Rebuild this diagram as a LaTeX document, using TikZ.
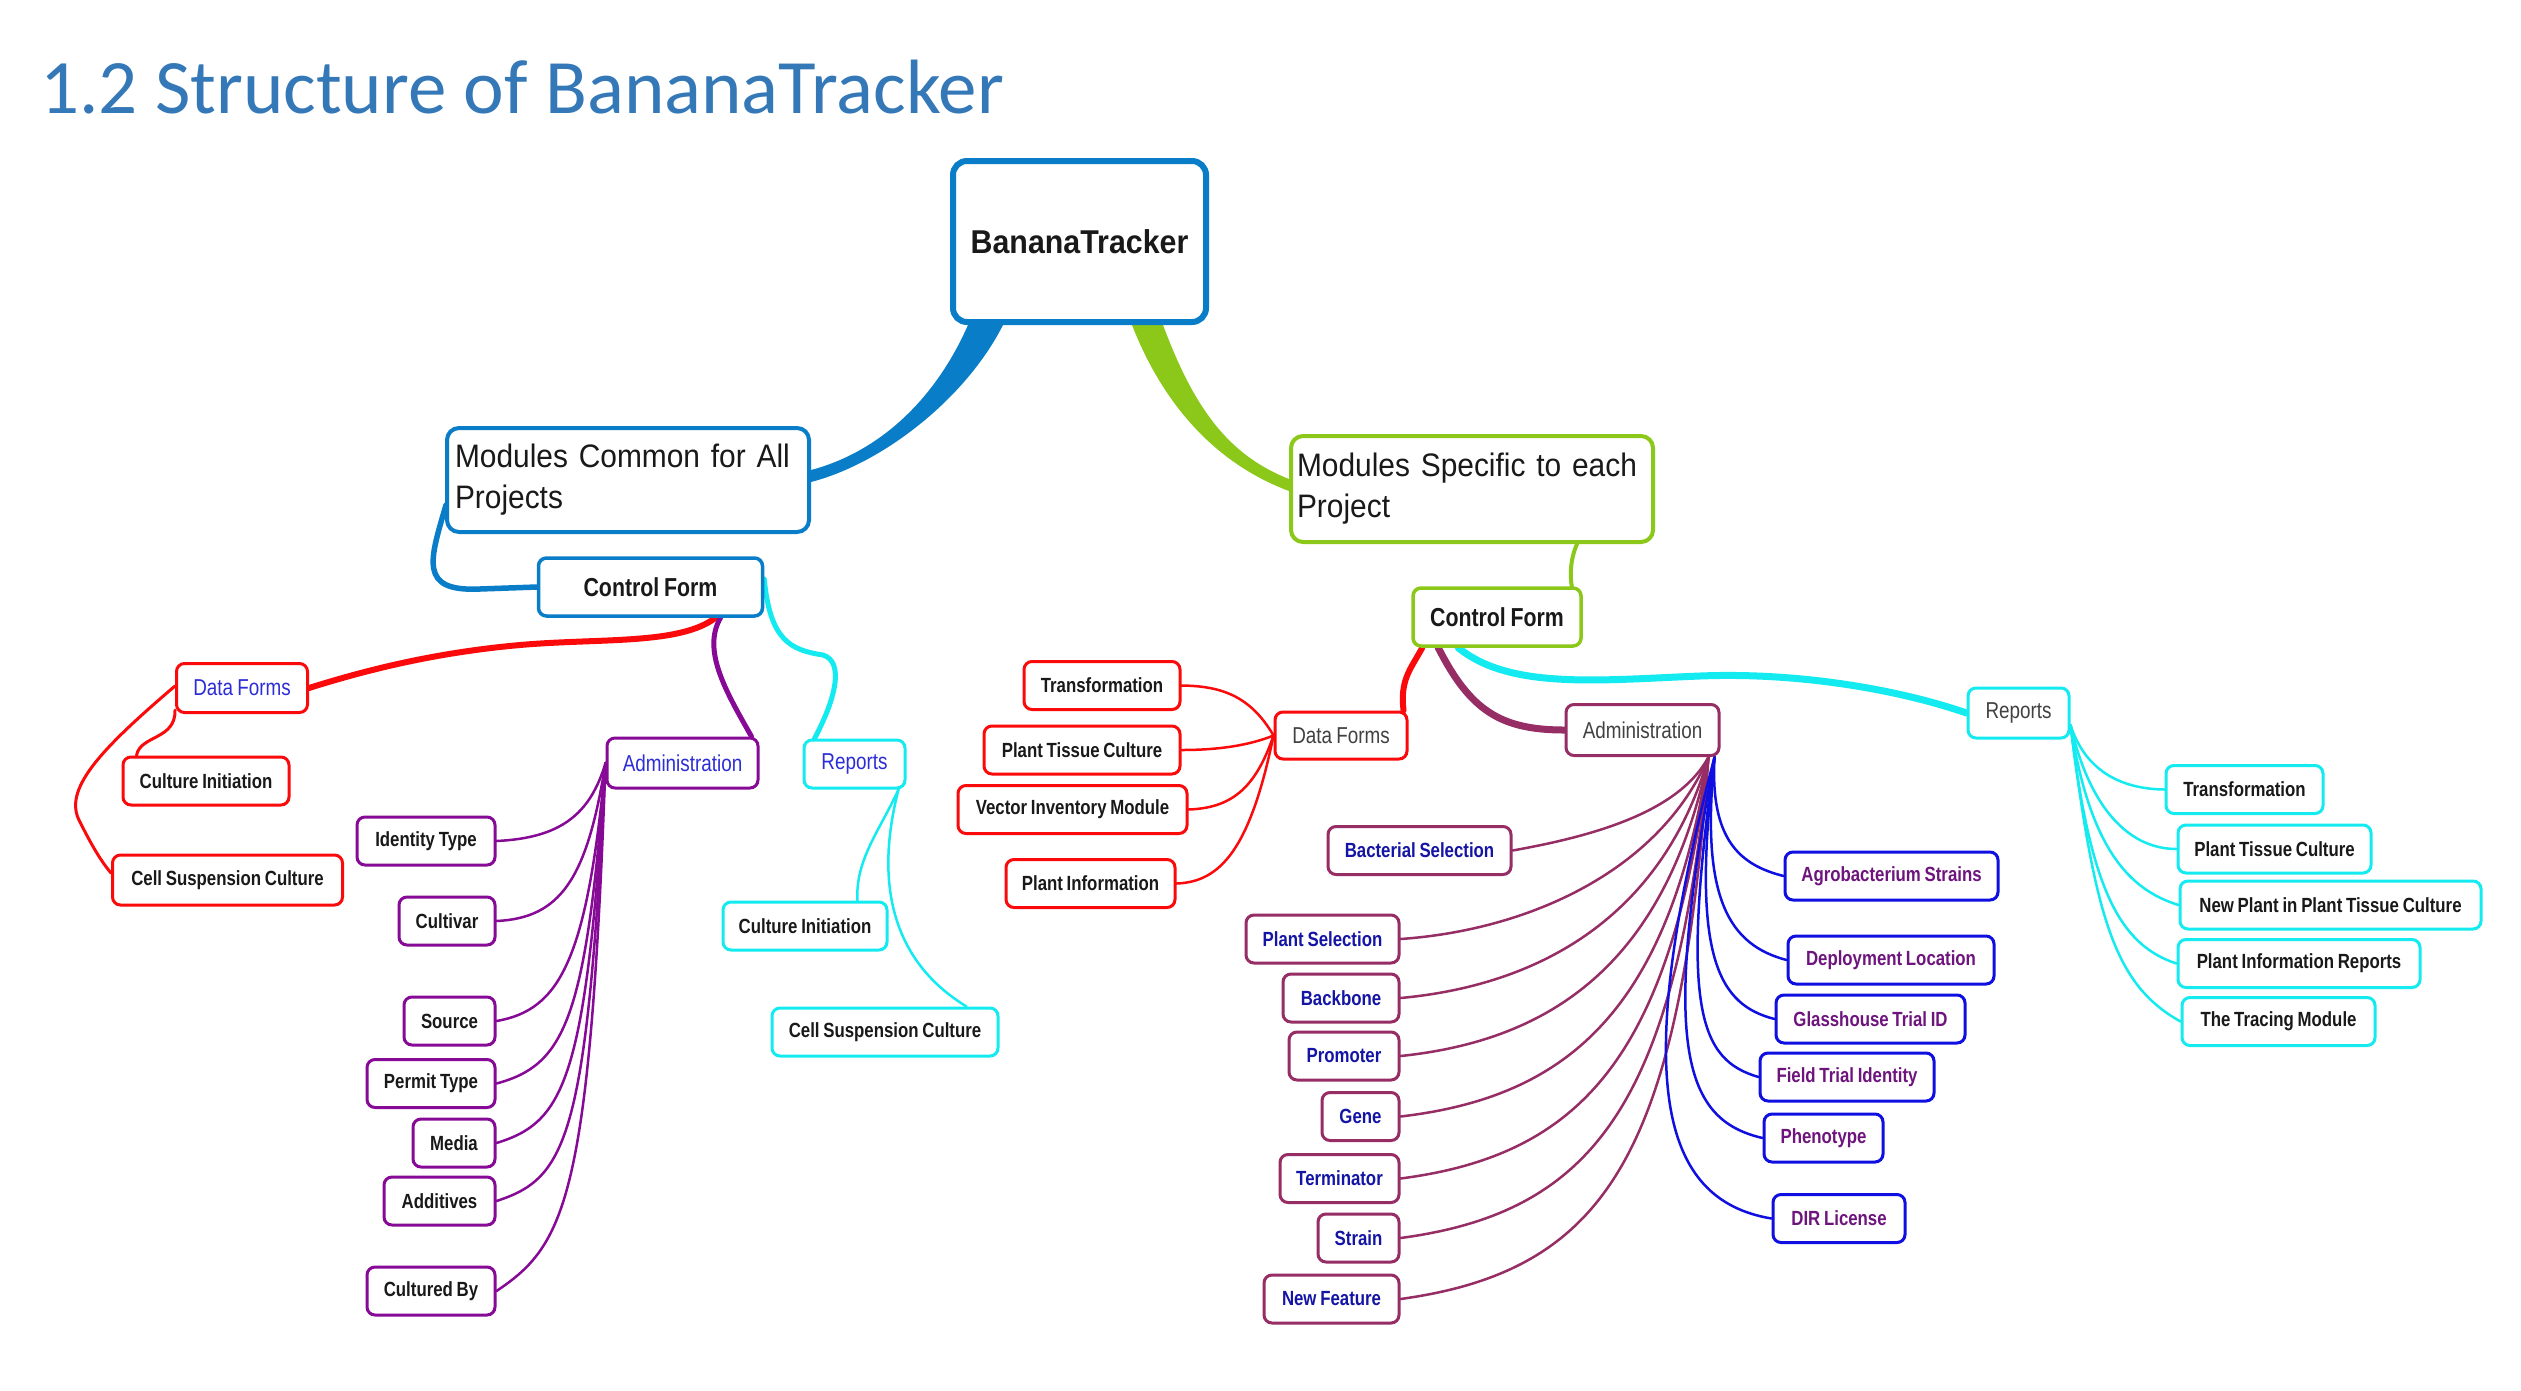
\documentclass[tikz,border=0pt]{standalone}
\usepackage{fontspec}
\setmainfont{Liberation Sans}
\newfontfamily\nar[FakeStretch=0.82,WordSpace=0.8]{Liberation Sans}
\newfontfamily\narw[FakeStretch=0.92,WordSpace=0.72]{Liberation Sans}
\newfontfamily\calib{Carlito}
\usetikzlibrary{calc}
\pgfdeclarelayer{bg}
\pgfdeclarelayer{paper}
\pgfsetlayers{paper,bg,main}
\definecolor{cBlue}{RGB}{10,125,200}
\definecolor{cGreen}{RGB}{140,200,25}
\definecolor{cRed}{RGB}{250,10,10}
\definecolor{cPurple}{RGB}{135,10,150}
\definecolor{cCyan}{RGB}{20,235,240}
\definecolor{cMaroon}{RGB}{150,45,100}
\definecolor{cDeep}{RGB}{15,15,225}
\definecolor{tBlue}{RGB}{45,45,215}
\definecolor{tNavy}{RGB}{20,20,165}
\definecolor{tPlum}{RGB}{110,20,125}
\definecolor{tGray}{RGB}{65,65,65}
\definecolor{tBlack}{RGB}{25,25,25}
\definecolor{titleBlue}{RGB}{52,120,184}
\begin{document}
\begin{tikzpicture}[x=1pt,y=1pt,
  mmbox/.style={draw=#1, line width=3pt, rounded corners=8pt, fill=white, inner sep=0pt, minimum height=48pt},
  mmitem/.style={mmbox=#1, font=\nar\bfseries\fontsize{20.5}{24}\selectfont, text=tBlack},
  mmcat/.style={mmbox=#1, font=\nar\fontsize{23}{27}\selectfont},
  mmlink/.style={draw=#1, line width=2.5pt, line cap=round}]
\begin{pgfonlayer}{paper}
\fill[white] (0,0) rectangle (2521,-1390);
\end{pgfonlayer}
\useasboundingbox (0,0) rectangle (2521,-1390);

\node[anchor=base west, inner sep=0pt, font=\calib\fontsize{77}{90}\selectfont, text=titleBlue] (title) at (40,-113) {1.2 Structure of BananaTracker};

% top level
\node[draw=cBlue, line width=6pt, rounded corners=14pt, fill=white, inner sep=0pt, minimum width=253pt, minimum height=161pt, font=\narw\bfseries\fontsize{33}{40}\selectfont, text=tBlack] (bt) at (1079.5,-241.5) {BananaTracker};
\node[draw=cBlue, line width=4pt, rounded corners=12pt, fill=white, inner sep=8pt, text width=346pt, minimum height=104pt, align=left, font=\narw\fontsize{32.5}{41}\selectfont, text=tBlack] (mc) at (628,-480) {Modules Common for All\\Projects};
\node[draw=cGreen, line width=4pt, rounded corners=12pt, fill=white, inner sep=6pt, text width=350pt, minimum height=106pt, align=left, font=\narw\fontsize{32.5}{41}\selectfont, text=tBlack] (ms) at (1472,-489) {Modules Specific to each\\Project};
\node[mmbox=cBlue, line width=3.5pt, minimum width=224pt, minimum height=58pt, font=\nar\bfseries\fontsize{26}{30}\selectfont, text=tBlack] (cfL) at (650.5,-587) {Control Form};
\node[mmbox=cGreen, line width=3.5pt, minimum width=168pt, minimum height=58pt, font=\nar\bfseries\fontsize{26}{30}\selectfont, text=tBlack] (cfR) at (1497,-617) {Control Form};

% left categories
\node[mmcat=cRed, text=tBlue, minimum width=131pt, minimum height=49pt] (dfL) at (242,-688) {Data Forms};
\node[mmcat=cPurple, text=tBlue, minimum width=151pt, minimum height=50pt] (admL) at (682.5,-763) {Administration};
\node[mmcat=cCyan, text=tBlue, minimum width=101pt] (repL) at (854.5,-764) {Reports};

% left data forms items
\node[mmitem=cRed, minimum width=166pt] (ciL) at (206,-781) {Culture Initiation};
\node[mmitem=cRed, minimum width=230pt, minimum height=50pt] (cscL) at (227.5,-880) {Cell Suspension Culture};

% left administration items
\node[mmitem=cPurple, minimum width=138pt] (it) at (426,-841) {Identity Type};
\node[mmitem=cPurple, minimum width=96pt] (cv) at (447,-921) {Cultivar};
\node[mmitem=cPurple, minimum width=91pt] (src) at (449.5,-1021) {Source};
\node[mmitem=cPurple, minimum width=128pt] (pt) at (431,-1083.5) {Permit Type};
\node[mmitem=cPurple, minimum width=82pt] (md) at (454,-1143) {Media};
\node[mmitem=cPurple, minimum width=111pt] (ad) at (439.5,-1201) {Additives};
\node[mmitem=cPurple, minimum width=128pt] (cb) at (431,-1291) {Cultured By};

% left reports items
\node[mmitem=cCyan, minimum width=164pt] (ciR) at (805,-926) {Culture Initiation};
\node[mmitem=cCyan, minimum width=226pt] (cscR) at (885,-1032) {Cell Suspension Culture};

% right categories
\node[mmcat=cRed, text=tGray, minimum width=132pt, minimum height=47pt] (dfR) at (1341,-735.5) {Data Forms};
\node[mmcat=cMaroon, text=tGray, minimum width=153pt, minimum height=51pt] (admR) at (1642.5,-730) {Administration};
\node[mmcat=cCyan, text=tGray, minimum width=101pt, minimum height=50pt] (repR) at (2018.5,-713) {Reports};

% right data forms items
\node[mmitem=cRed, minimum width=156pt] (tr1) at (1102,-685.5) {Transformation};
\node[mmitem=cRed, minimum width=196pt] (ptc1) at (1082,-750) {Plant Tissue Culture};
\node[mmitem=cRed, minimum width=229pt] (vim) at (1072.5,-809.5) {Vector Inventory Module};
\node[mmitem=cRed, minimum width=169pt] (pinf) at (1090.5,-883.5) {Plant Information};

% right administration items (left side)
\node[mmitem=cMaroon, text=tNavy, minimum width=183pt] (bs) at (1419.5,-850.5) {Bacterial Selection};
\node[mmitem=cMaroon, text=tNavy, minimum width=153pt] (ps) at (1322.5,-939) {Plant Selection};
\node[mmitem=cMaroon, text=tNavy, minimum width=116pt] (bb) at (1341,-998) {Backbone};
\node[mmitem=cMaroon, text=tNavy, minimum width=110pt] (pr) at (1344,-1056) {Promoter};
\node[mmitem=cMaroon, text=tNavy, minimum width=77pt] (gn) at (1360.5,-1116.5) {Gene};
\node[mmitem=cMaroon, text=tNavy, minimum width=119pt] (tm) at (1339.5,-1178.5) {Terminator};
\node[mmitem=cMaroon, text=tNavy, minimum width=81pt] (st) at (1358.5,-1238) {Strain};
\node[mmitem=cMaroon, text=tNavy, minimum width=135pt] (nf) at (1331.5,-1299) {New Feature};

% right administration items (right side)
\node[mmitem=cDeep, text=tPlum, minimum width=213pt] (ag) at (1891.5,-876) {Agrobacterium Strains};
\node[mmitem=cDeep, text=tPlum, minimum width=206pt] (dl) at (1891,-960) {Deployment Location};
\node[mmitem=cDeep, text=tPlum, minimum width=189pt] (gt) at (1870.5,-1019) {Glasshouse Trial ID};
\node[mmitem=cDeep, text=tPlum, minimum width=174pt] (ft) at (1847,-1077) {Field Trial Identity};
\node[mmitem=cDeep, text=tPlum, minimum width=119pt] (ph) at (1823.5,-1138) {Phenotype};
\node[mmitem=cDeep, text=tPlum, minimum width=132pt] (dir) at (1839,-1218.5) {DIR License};

% right reports items
\node[mmitem=cCyan, minimum width=157pt] (tr2) at (2244.5,-789.5) {Transformation};
\node[mmitem=cCyan, minimum width=193pt] (ptc2) at (2274.5,-849) {Plant Tissue Culture};
\node[mmitem=cCyan, minimum width=301pt] (np) at (2330.5,-905) {New Plant in Plant Tissue Culture};
\node[mmitem=cCyan, minimum width=242pt] (pir) at (2299,-963.5) {Plant Information Reports};
\node[mmitem=cCyan, minimum width=193pt] (tt) at (2278.5,-1021.5) {The Tracing Module};

\coordinate (admRs) at ($(admR.south east)+(-12,0)$);
\coordinate (admRb) at ($(admR.south east)+(-6,0)$);
\coordinate (repRs) at ($(repR.east)+(0,-12)$);
\coordinate (repLs) at ($(repL.south east)+(-8,0)$);

\begin{pgfonlayer}{bg}
% main tapered branches
\fill[cBlue] ($(bt.south)+(-111.5,0)$) .. controls (935,-400) and (879,-452) .. ($(mc.east)+(0,10)$) -- ($(mc.east)+(0,-2)$) .. controls (881,-464) and (965,-400) .. ($(bt.south)+(-76.5,0)$) -- cycle;
\fill[cGreen] ($(bt.south)+(52.5,0)$) .. controls (1166,-412) and (1222,-466) .. ($(ms.west)+(0,-2)$) -- ($(ms.west)+(0,10)$) .. controls (1228,-455) and (1194,-408) .. ($(bt.south)+(83.5,0)$) -- cycle;

% left side
\draw[mmlink=cBlue, line width=5.5pt] ($(mc.west)+(1,-25)$) .. controls (430,-560) and (418,-592) .. (480,-589) -- (cfL.west);
\draw[mmlink=cRed, line width=6pt] ($(cfL.south)+(65,0)$) .. controls (680,-645) and (600,-638) .. (520,-645) .. controls (430,-653) and (360,-672) .. (dfL.east);
\draw[mmlink=cPurple, line width=5pt] ($(cfL.south)+(70,0)$) .. controls (702,-650) and (725,-690) .. ($(admL.north east)+(-8,0)$);
\draw[mmlink=cCyan, line width=5pt] ($(cfL.east)+(0,8)$) .. controls (770,-640) and (790,-650) .. (823,-655) .. controls (845,-662) and (835,-700) .. ($(repL.north west)+(12,0)$);

\draw[mmlink=cRed, line width=3pt] ($(dfL.south west)+(0,4)$) .. controls (176,-740) and (140,-735) .. ($(ciL.north west)+(15,0)$);
\draw[mmlink=cRed, line width=3pt] ($(dfL.west)+(0,2)$) .. controls (100,-750) and (62,-790) .. (80,-822) .. controls (90,-842) and (100,-860) .. ($(cscL.west)+(0,7)$);

\draw[mmlink=cPurple] (admL.west) .. controls (590,-815) and (560,-838) .. (it.east);
\draw[mmlink=cPurple] (admL.west) .. controls (587,-880) and (560,-918) .. (cv.east);
\draw[mmlink=cPurple] (admL.west) .. controls (587,-960) and (560,-1010) .. (src.east);
\draw[mmlink=cPurple] (admL.west) .. controls (586,-1020) and (565,-1065) .. (pt.east);
\draw[mmlink=cPurple] (admL.west) .. controls (586,-1080) and (565,-1122) .. (md.east);
\draw[mmlink=cPurple] (admL.west) .. controls (587,-1140) and (567,-1178) .. (ad.east);
\draw[mmlink=cPurple] (admL.west) .. controls (590,-1200) and (565,-1245) .. (cb.east);

\draw[mmlink=cCyan] (repLs) .. controls (880,-830) and (855,-860) .. ($(ciR.north east)+(-31,0)$);
\draw[mmlink=cCyan] (repLs) .. controls (875,-880) and (890,-960) .. ($(cscR.north east)+(-33,0)$);

% right side
\draw[mmlink=cGreen, line width=4pt] ($(ms.south)+(105,0)$) .. controls (1570,-560) and (1570,-575) .. ($(cfR.north east)+(-11,0)$);
\draw[mmlink=cRed, line width=6pt] ($(cfR.south west)+(11,0)$) .. controls (1410,-670) and (1400,-680) .. ($(dfR.north east)+(-5,0)$);
\draw[mmlink=cMaroon, line width=7pt] ($(cfR.south west)+(27,0)$) .. controls (1470,-710) and (1500,-730) .. (admR.west);
\draw[mmlink=cCyan, line width=7pt] ($(cfR.south west)+(47,0)$) .. controls (1510,-690) and (1600,-680) .. (1700,-676) .. controls (1800,-672) and (1900,-690) .. (repR.west);

\draw[mmlink=cRed] (dfR.west) .. controls (1250,-695) and (1220,-686) .. (tr1.east);
\draw[mmlink=cRed] (dfR.west) .. controls (1250,-745) and (1220,-750) .. (ptc1.east);
\draw[mmlink=cRed] (dfR.west) .. controls (1255,-790) and (1230,-808) .. (vim.east);
\draw[mmlink=cRed] (dfR.west) .. controls (1250,-850) and (1220,-882) .. (pinf.east);

\draw[mmlink=cMaroon] (admRs) .. controls (1680,-810) and (1600,-835) .. (bs.east);
\draw[mmlink=cMaroon] (admRs) .. controls (1660,-870) and (1530,-930) .. (ps.east);
\draw[mmlink=cMaroon] (admRs) .. controls (1663,-915) and (1542,-985) .. (bb.east);
\draw[mmlink=cMaroon] (admRs) .. controls (1666,-960) and (1555,-1040) .. (pr.east);
\draw[mmlink=cMaroon] (admRs) .. controls (1669,-1010) and (1568,-1097) .. (gn.east);
\draw[mmlink=cMaroon] (admRs) .. controls (1672,-1055) and (1582,-1155) .. (tm.east);
\draw[mmlink=cMaroon] (admRs) .. controls (1676,-1100) and (1596,-1212) .. (st.east);
\draw[mmlink=cMaroon] (admRs) .. controls (1680,-1150) and (1610,-1270) .. (nf.east);

\draw[mmlink=cDeep] (admRb) .. controls (1710,-840) and (1740,-865) .. (ag.west);
\draw[mmlink=cDeep] (admRb) .. controls (1700,-900) and (1730,-945) .. (dl.west);
\draw[mmlink=cDeep] (admRb) .. controls (1690,-960) and (1720,-1005) .. (gt.west);
\draw[mmlink=cDeep] (admRb) .. controls (1680,-1010) and (1700,-1060) .. (ft.west);
\draw[mmlink=cDeep] (admRb) .. controls (1660,-1050) and (1685,-1120) .. (ph.west);
\draw[mmlink=cDeep] (admRb) .. controls (1630,-1080) and (1660,-1200) .. (dir.west);

\draw[mmlink=cCyan] (repRs) .. controls (2085,-770) and (2120,-789) .. (tr2.west);
\draw[mmlink=cCyan] (repRs) .. controls (2090,-810) and (2130,-849) .. (ptc2.west);
\draw[mmlink=cCyan] (repRs) .. controls (2090,-850) and (2130,-890) .. (np.west);
\draw[mmlink=cCyan] (repRs) .. controls (2090,-890) and (2120,-945) .. (pir.west);
\draw[mmlink=cCyan] (repRs) .. controls (2095,-920) and (2115,-985) .. (tt.west);
\end{pgfonlayer}
\end{tikzpicture}
\end{document}
